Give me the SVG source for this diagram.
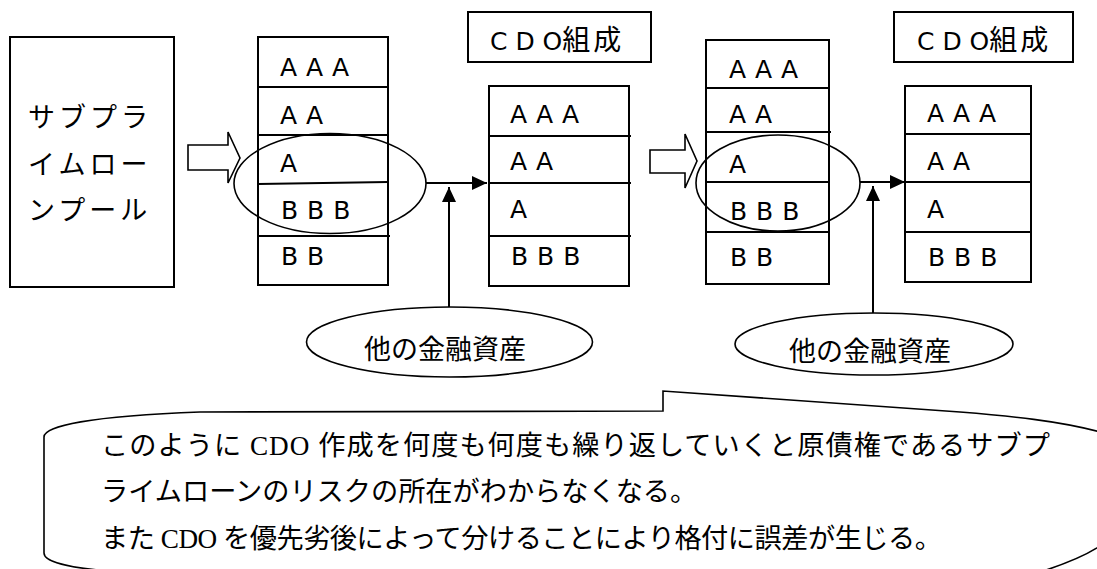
<svg xmlns="http://www.w3.org/2000/svg" width="1097" height="569" viewBox="0 0 1097 569">
<style>
.box{fill:#fff;stroke:#000;stroke-width:2}
.div{stroke:#000;stroke-width:2;fill:none}
.ell{fill:none;stroke:#000;stroke-width:1.6}
.ellw{fill:#fff;stroke:#000;stroke-width:1.6}
.conn{stroke:#000;stroke-width:2;fill:none}
.blk{fill:#fff;stroke:#000;stroke-width:1.6}
.lat{font-family:"DejaVu Sans","Noto Sans CJK JP",sans-serif;font-size:25px;letter-spacing:0.5px;fill:#000}
.jp{font-family:"Noto Sans CJK JP",sans-serif;font-size:27px;fill:#000}
.cdo{font-family:"DejaVu Sans","Noto Sans CJK JP",sans-serif;font-size:25px;fill:#000}
.note{font-family:"Liberation Serif","Noto Sans CJK JP",serif;font-size:27.2px;fill:#000}
</style>
<defs>
<marker id="ah" markerWidth="16" markerHeight="14" refX="15" refY="7" orient="auto" markerUnits="userSpaceOnUse">
<path d="M0,0 L15,7 L0,14 Z" fill="#000"/>
</marker>
</defs>
<rect width="1097" height="569" fill="#fff"/>

<g id="pool">
<rect class="box" x="10" y="37" width="164" height="250"/>
<text class="jp" x="28" y="127" letter-spacing="4">サブプラ</text>
<text class="jp" x="28" y="174" letter-spacing="4">イムロー</text>
<text class="jp" x="28" y="220" letter-spacing="4">ンプール</text>
</g>

<g id="block-arrow-1">
<path class="blk" d="M188,145 L228,145 L228,132 L240,158 L228,183 L228,170 L188,170 Z"/>
</g>

<g id="stack-1">
<rect class="box" x="258" y="37" width="130" height="248"/>
<line class="div" x1="258" y1="87" x2="388" y2="87"/>
<line class="div" x1="258" y1="135" x2="388" y2="135"/>
<line class="div" x1="258" y1="184" x2="388" y2="182"/>
<line class="div" x1="258" y1="236" x2="390" y2="236"/>
<text class="lat" x="280" y="76">A A A</text>
<text class="lat" x="280" y="124">A A</text>
<text class="lat" x="280" y="172">A</text>
<text class="lat" x="281" y="219">B B B</text>
<text class="lat" x="281" y="265">B B</text>
</g>
<g id="select-1">
<ellipse class="ell" cx="330" cy="183.5" rx="96" ry="50"/>
</g>

<g id="cdo-label-1">
<rect class="box" x="468" y="12" width="183" height="50"/>
<text class="cdo" x="490" y="50">C D O<tspan font-family="Noto Sans CJK JP, sans-serif" font-size="28" letter-spacing="3">組成</tspan></text>
</g>

<g id="stack-2">
<rect class="box" x="489" y="86" width="140" height="200"/>
<line class="div" x1="489" y1="136" x2="631" y2="136"/>
<line class="div" x1="489" y1="183" x2="631" y2="183"/>
<line class="div" x1="489" y1="236" x2="631" y2="236"/>
<text class="lat" x="510" y="123">A A A</text>
<text class="lat" x="510" y="170">A A</text>
<text class="lat" x="510" y="218">A</text>
<text class="lat" x="511" y="265">B B B</text>
</g>

<g id="block-arrow-2">
<path class="blk" d="M650,150 L685,150 L685,134 L697,161 L685,188 L685,173 L650,173 Z"/>
</g>

<g id="stack-3">
<rect class="box" x="706" y="40" width="123" height="244"/>
<line class="div" x1="706" y1="88" x2="829" y2="88"/>
<line class="div" x1="706" y1="132" x2="831" y2="132"/>
<line class="div" x1="706" y1="182" x2="829" y2="182"/>
<line class="div" x1="706" y1="232" x2="829" y2="232"/>
<text class="lat" x="729" y="78">A A A</text>
<text class="lat" x="729" y="123">A A</text>
<text class="lat" x="729" y="173">A</text>
<text class="lat" x="730" y="220">B B B</text>
<text class="lat" x="730" y="266">B B</text>
</g>
<g id="select-2">
<ellipse class="ell" cx="778" cy="183" rx="82" ry="48"/>
</g>

<g id="cdo-label-2">
<rect class="box" x="894" y="12" width="179" height="50"/>
<text class="cdo" x="917" y="50">C D O<tspan font-family="Noto Sans CJK JP, sans-serif" font-size="28" letter-spacing="3">組成</tspan></text>
</g>

<g id="stack-4">
<rect class="box" x="905" y="86" width="126" height="196"/>
<line class="div" x1="905" y1="134" x2="1031" y2="134"/>
<line class="div" x1="905" y1="182" x2="1031" y2="182"/>
<line class="div" x1="905" y1="232" x2="1031" y2="232"/>
<text class="lat" x="927" y="122">A A A</text>
<text class="lat" x="927" y="170">A A</text>
<text class="lat" x="927" y="218">A</text>
<text class="lat" x="928" y="266">B B B</text>
</g>

<g id="other-assets-1">
<ellipse class="ellw" cx="449.5" cy="342" rx="143" ry="35"/>
<text class="jp" x="445" y="359" text-anchor="middle">他の金融資産</text>
</g>
<g id="other-assets-2">
<ellipse class="ellw" cx="874" cy="344" rx="139" ry="31"/>
<text class="jp" x="870" y="361" text-anchor="middle">他の金融資産</text>
</g>

<g id="connectors">
<line class="conn" x1="426" y1="183" x2="487" y2="183" marker-end="url(#ah)"/>
<line class="conn" x1="449" y1="307" x2="449" y2="187" marker-end="url(#ah)"/>
<line class="conn" x1="860" y1="182" x2="905" y2="182" marker-end="url(#ah)"/>
<line class="conn" x1="873" y1="313" x2="873" y2="186" marker-end="url(#ah)"/>
</g>

<g id="callout">
<path class="ellw" d="M44,437 C44,426 90,416 200,412 L663,411 L663,391 L960,412 C1010,416 1060,421 1100,432 L1100,546 C1085,556 1065,564 1040,572 L120,572 C80,569 44,564 44,553 Z"/>
<text class="note" x="101" y="455" textLength="949" lengthAdjust="spacing">このように CDO 作成を何度も何度も繰り返していくと原債権であるサブプ</text>
<text class="note" x="101" y="501">ライムローンのリスクの所在がわからなくなる。</text>
<text class="note" x="101" y="548" textLength="841" lengthAdjust="spacing">また CDO を優先劣後によって分けることにより格付に誤差が生じる。</text>
</g>
</svg>
